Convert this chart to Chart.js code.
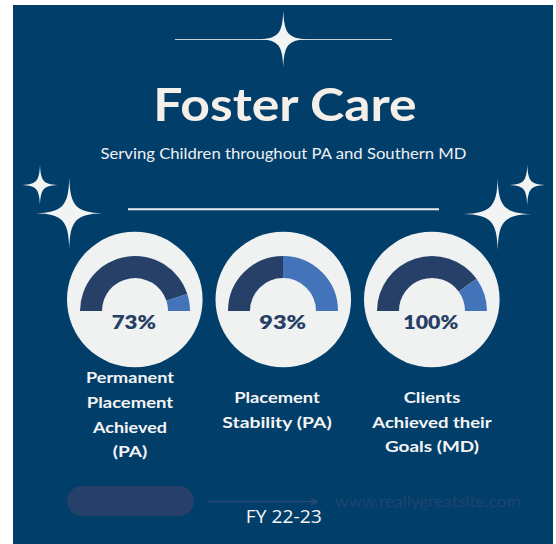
<!DOCTYPE html>
<html>
<head>
<meta charset="utf-8">
<script src="https://cdn.jsdelivr.net/npm/chart.js@4.4.1/dist/chart.umd.min.js"></script>
<style>
  html, body { margin: 0; padding: 0; background: #ffffff; }
  #stage { position: relative; width: 556px; height: 544px; overflow: hidden; }
  #panel { position: absolute; left: 13px; top: 5px; width: 540px; height: 539px; background: #023e6a; }
  svg { position: absolute; left: 0; top: 0; }
  canvas.gauge { position: absolute; }
</style>
</head>
<body>
<div id="stage">
  <div id="panel"></div>
  <svg id="deco" width="556" height="544"></svg>
  <canvas class="gauge" id="g0" width="120" height="62"></canvas>
  <canvas class="gauge" id="g1" width="120" height="62"></canvas>
  <canvas class="gauge" id="g2" width="120" height="62"></canvas>
</div>
<script>
// Data ------------------------------------------
const metricLabels = [
  ['Permanent', 'Placement', 'Achieved', '(PA)'],
  ['Placement', 'Stability (PA)'],
  ['Clients', 'Achieved their', 'Goals (MD)']
];
const percentText = ['73%', '93%', '100%'];
const filledShare = [90, 50, 80];     // dark part of each gauge
const remainingShare = [10, 50, 20];  // light part of each gauge

const titleText = 'Foster Care';
const subtitleText = 'Serving Children throughout PA and Southern MD';
const periodText = 'FY 22-23';
const siteText = 'www.reallygreatsite.com';

// Layout ----------------------------------------
const colX = [134.5, 283, 431.5];       // circle / gauge centres
const labelX = [130, 277, 432];
const labelTop = [383.3, 403.3, 403];   // first baseline of each label
const labelStep = 24.6;
const labelWidths = [[88, 86.5, 74, 34.6], [85.7, 109.4], [56.7, 119.4, 94]];
const percentWidths = [44.3, 46.7, 55];
const percentX = [133.8, 282.7, 430.8];
const gaugeY = 311;
const circleY = 299.5;

const svgNS = 'http://www.w3.org/2000/svg';
const svg = document.getElementById('deco');

function el(name, attrs, text) {
  const e = document.createElementNS(svgNS, name);
  for (const k in attrs) e.setAttribute(k, attrs[k]);
  if (text !== undefined) e.textContent = text;
  svg.appendChild(e);
  return e;
}

// four pointed sparkle, thin tips and a round-ish body
function star(cx, cy, a, b) {
  const f = 0.2, o = 0.8;
  const q = (sx, sy) =>
    ` C ${cx + sx * o} ${cy + sy * b * f} ${cx + sx * a * f} ${cy + sy * o} ${cx + sx * a} ${cy}`;
  const q2 = (sx, sy) =>
    ` C ${cx + sx * a * f} ${cy + sy * o} ${cx + sx * o} ${cy + sy * b * f} ${cx} ${cy + sy * b}`;
  const d = `M ${cx} ${cy - b}` + q(1, -1) + q2(1, 1) + q(-1, 1) + q2(-1, -1) + ' Z';
  el('path', { d: d, fill: '#f2f3f3' });
}

function text(str, x, y, size, weight, color, width, family) {
  const attrs = {
    x: x, y: y, 'text-anchor': 'middle', fill: color,
    'font-size': size, 'font-weight': weight,
    'font-family': family || 'Lato, sans-serif'
  };
  if (width) { attrs.textLength = width; attrs.lengthAdjust = 'spacingAndGlyphs'; }
  return el('text', attrs, str);
}

// lines and stars
el('line', { x1: 175, y1: 39.5, x2: 392, y2: 39.5, stroke: '#c9d1da', 'stroke-width': 1.2 });
el('line', { x1: 128, y1: 209.3, x2: 439, y2: 209.3, stroke: '#e9ecef', 'stroke-width': 2 });
star(283.3, 39.3, 24, 29);
star(40, 185, 17.5, 20);
star(69.3, 213.3, 33, 36);
star(527.3, 185, 17.5, 20);
star(497.7, 214, 34, 36);

// title block
text(titleText, 285, 120.7, 46, 700, '#f4efe9', 263.4);
text(subtitleText, 283.5, 159.3, 15.5, 400, '#eef0f3', 366);

// circles and percent values
colX.forEach((x, i) => {
  el('circle', { cx: x + 0.3, cy: circleY, r: 67.8, fill: '#f0f1f1' });
  text(percentText[i], percentX[i], 329.3, 19, 800, '#263f66', percentWidths[i]);
});

// metric captions
metricLabels.forEach((lines, i) => {
  lines.forEach((line, j) => {
    text(line, labelX[i], labelTop[i] + j * labelStep, 16, 700, '#f4f4f4', labelWidths[i][j]);
  });
});

// footer
el('rect', { x: 67, y: 486, width: 127, height: 30, rx: 15, fill: '#27406a' });
el('line', { x1: 207, y1: 501.7, x2: 316, y2: 501.7, stroke: '#2e4a73', 'stroke-width': 1.3 });
el('path', { d: 'M 311 498.7 L 317 501.7 L 311 504.7', fill: 'none', stroke: '#2e4a73', 'stroke-width': 1.3 });
text(siteText, 427.8, 507, 15, 400, '#1d456f', 185.7);
text(periodText, 283.7, 522.7, 18, 400, '#f6f6f6', 76, '"Open Sans", sans-serif');

// gauges ----------------------------------------
colX.forEach((x, i) => {
  const canvas = document.getElementById('g' + i);
  canvas.style.left = (x - 60) + 'px';
  canvas.style.top = (gaugeY - 57) + 'px';
  new Chart(canvas, {
    type: 'doughnut',
    data: {
      labels: ['Achieved', 'Remaining'],
      datasets: [{
        data: [filledShare[i], remainingShare[i]],
        backgroundColor: ['#264068', '#4373b8'],
        borderWidth: 0
      }]
    },
    options: {
      responsive: false,
      animation: false,
      rotation: -90,
      circumference: 180,
      cutout: '60%',
      layout: { padding: { left: 5, right: 5, top: 2, bottom: 5 } },
      plugins: { legend: { display: false }, tooltip: { enabled: false } }
    }
  });
});
</script>
</body>
</html>
